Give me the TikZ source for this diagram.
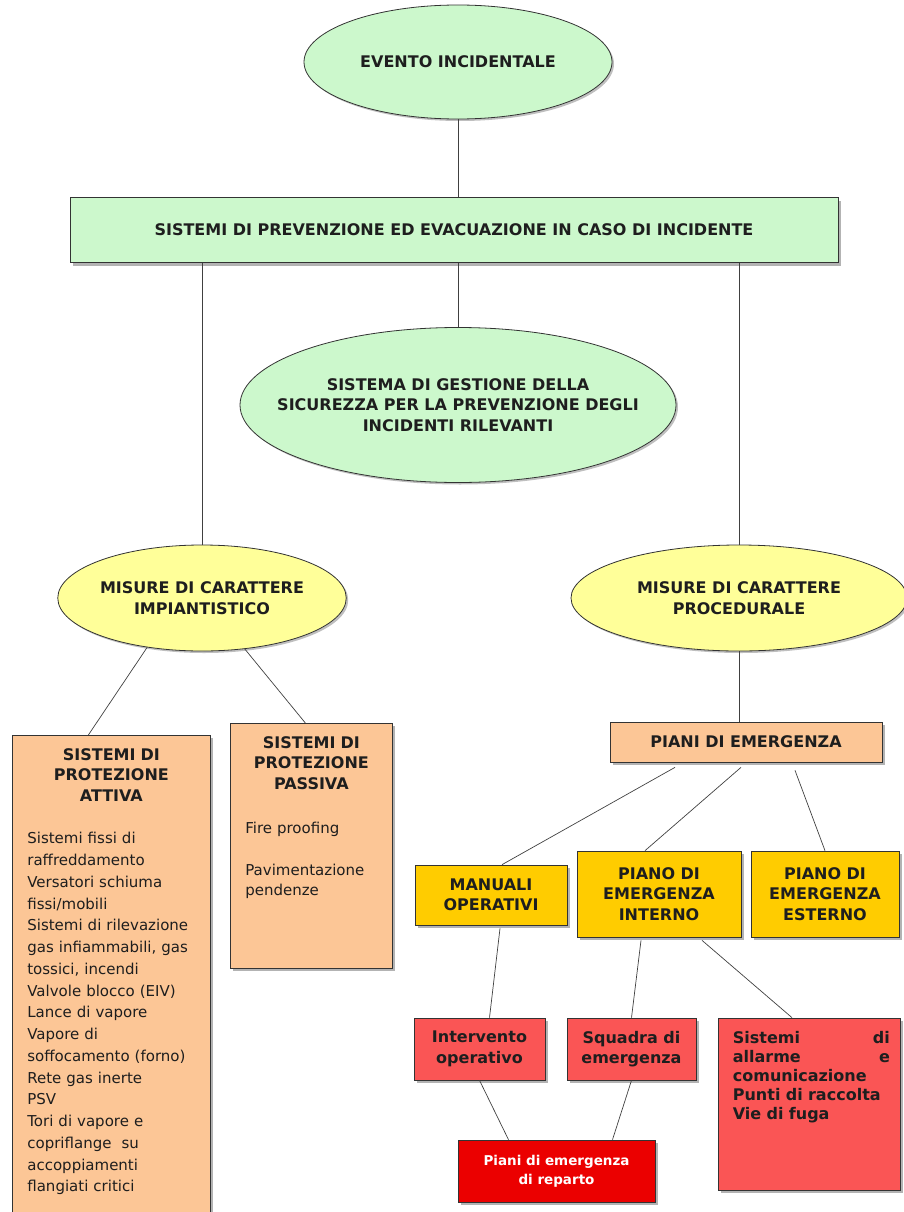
\documentclass[tikz,border=0pt]{standalone}
\usepackage{fontspec}
\setmainfont{DejaVu Sans}
\usetikzlibrary{shapes.geometric,shadows}

\definecolor{mint}{RGB}{204,248,204}
\definecolor{lemon}{RGB}{255,255,153}
\definecolor{peach}{RGB}{252,198,150}
\definecolor{gold}{RGB}{255,204,0}
\definecolor{salmon}{RGB}{250,85,85}
\definecolor{fire}{RGB}{235,0,0}
\definecolor{ink}{RGB}{30,30,30}

\begin{document}
\begin{tikzpicture}[x=1pt,y=-1pt,
  txt/.style={font=\bfseries\fontsize{16}{20.5}\selectfont,text=ink,align=center},
  body/.style={font=\fontsize{15}{21.75}\selectfont,text=ink,inner sep=0pt},
  oval/.style={ellipse,draw=black!80,line width=0.8pt,inner sep=0pt,txt,
    drop shadow={shadow xshift=2pt,shadow yshift=-2pt,opacity=0.5}},
  box/.style={rectangle,draw=black!80,line width=0.7pt,inner sep=0pt,txt,
    drop shadow={shadow xshift=3pt,shadow yshift=-3pt,opacity=0.6}},
  link/.style={draw=black!75,line width=0.7pt}]

\useasboundingbox (0,0) rectangle (903,1212);

% livelli superiori
\node[oval,fill=mint,minimum width=308pt,minimum height=114pt] (evento) at (458,62) {EVENTO INCIDENTALE};
\node[box,fill=mint,minimum width=768pt,minimum height=65pt] (sistemi) at (454,230) {SISTEMI DI PREVENZIONE ED EVACUAZIONE IN CASO DI INCIDENTE};
\node[oval,fill=mint,minimum width=436pt,minimum height=155pt,
  label={[txt]center:SISTEMA DI GESTIONE DELLA\\SICUREZZA PER LA PREVENZIONE DEGLI\\INCIDENTI RILEVANTI}] (sgs) at (458,405) {};
\node[oval,fill=lemon,minimum width=284pt,minimum height=106pt] (impiant) at (202,598) {MISURE DI CARATTERE\\IMPIANTISTICO};
\node[oval,fill=lemon,minimum width=336pt,minimum height=106pt] (proced) at (739,598) {MISURE DI CARATTERE\\PROCEDURALE};

% misure impiantistiche
\node[box,fill=peach,minimum width=198pt,minimum height=482pt,anchor=north west] (attiva) at (12,735) {};
\node[body,anchor=north,text width=168pt] (attivatxt) at ([yshift=-13pt]attiva.north)
  {{\centering\bfseries\fontsize{16}{20.5}\selectfont SISTEMI DI\\PROTEZIONE\\ATTIVA\par}\vspace{21pt}
   Sistemi fissi di\\raffreddamento\\Versatori schiuma\\fissi/mobili\\Sistemi di rilevazione\\gas infiammabili, gas\\tossici, incendi\\Valvole blocco (EIV)\\Lance di vapore\\Vapore di\\soffocamento (forno)\\Rete gas inerte\\PSV\\Tori di vapore e\\copriflange\ \ su\\accoppiamenti\\flangiati critici};
\node[box,fill=peach,minimum width=162pt,minimum height=245pt,anchor=north west] (passiva) at (230,723) {};
\node[body,anchor=north,text width=132pt,font=\fontsize{15}{20.5}\selectfont] (passivatxt) at ([yshift=-13pt]passiva.north)
  {{\centering\bfseries\fontsize{16}{20.5}\selectfont SISTEMI DI\\PROTEZIONE\\PASSIVA\par}\vspace{24pt}
   Fire proofing\\[21pt]Pavimentazione\\pendenze};

% misure procedurali
\node[box,fill=peach,minimum width=272pt,minimum height=40pt] (piani) at (746,742) {PIANI DI EMERGENZA};
\node[box,fill=gold,minimum width=152pt,minimum height=60pt] (manuali) at (491,895) {MANUALI\\OPERATIVI};
\node[box,fill=gold,minimum width=164pt,minimum height=86pt] (interno) at (659,894) {PIANO DI\\EMERGENZA\\INTERNO};
\node[box,fill=gold,minimum width=148pt,minimum height=86pt] (esterno) at (825,894) {PIANO DI\\EMERGENZA\\ESTERNO};
\node[box,fill=salmon,minimum width=131pt,minimum height=62pt] (intervento) at (479.5,1049) {Intervento\\operativo};
\node[box,fill=salmon,minimum width=129pt,minimum height=62pt] (squadra) at (631.5,1049) {Squadra di\\emergenza};
\node[box,fill=salmon,minimum width=182pt,minimum height=172pt] (allarme) at (809,1104) {};
\node[body,anchor=north west,text width=157pt,font=\bfseries\fontsize{16}{19}\selectfont] (allarmetxt) at ([xshift=15pt,yshift=-13pt]allarme.north west)
  {Sistemi\hfill di\\allarme\hfill e\\comunicazione\\Punti di raccolta\\Vie di fuga};
\node[box,fill=fire,text=white,minimum width=197pt,minimum height=62pt,font=\bfseries\fontsize{13.5}{19}\selectfont] (reparto) at (556.5,1171) {Piani di emergenza\\di reparto};

% collegamenti
\draw[link] (evento.south) -- (evento.south |- sistemi.north);
\draw[link] (sistemi.south -| impiant.north) -- (impiant.north);
\draw[link] (sistemi.south -| sgs.north) -- (sgs.north);
\draw[link] (sistemi.south -| proced.north) -- (proced.north);
\draw[link] (impiant.222) -- ([xshift=-23pt]attiva.north);
\draw[link] (impiant.310) -- ([xshift=-6pt]passiva.north);
\draw[link] (proced.south) -- (proced.south |- piani.north);
\draw[link] ([xshift=-71pt,yshift=-5pt]piani.south) -- ([xshift=11pt]manuali.north);
\draw[link] ([xshift=-5pt,yshift=-5pt]piani.south) -- ([xshift=-14pt]interno.north);
\draw[link] ([xshift=49pt,yshift=-8pt]piani.south) -- (esterno.north);
\draw[link] ([xshift=9pt,yshift=-3pt]manuali.south) -- ([xshift=10pt]intervento.north);
\draw[link] ([xshift=-18pt,yshift=-3pt]interno.south) -- (squadra.north);
\draw[link] ([xshift=43pt,yshift=-3pt]interno.south) -- ([xshift=-17pt]allarme.north);
\draw[link] (intervento.south) -- ([xshift=-48pt]reparto.north);
\draw[link] (squadra.south) -- ([xshift=56pt]reparto.north);
\end{tikzpicture}
\end{document}
